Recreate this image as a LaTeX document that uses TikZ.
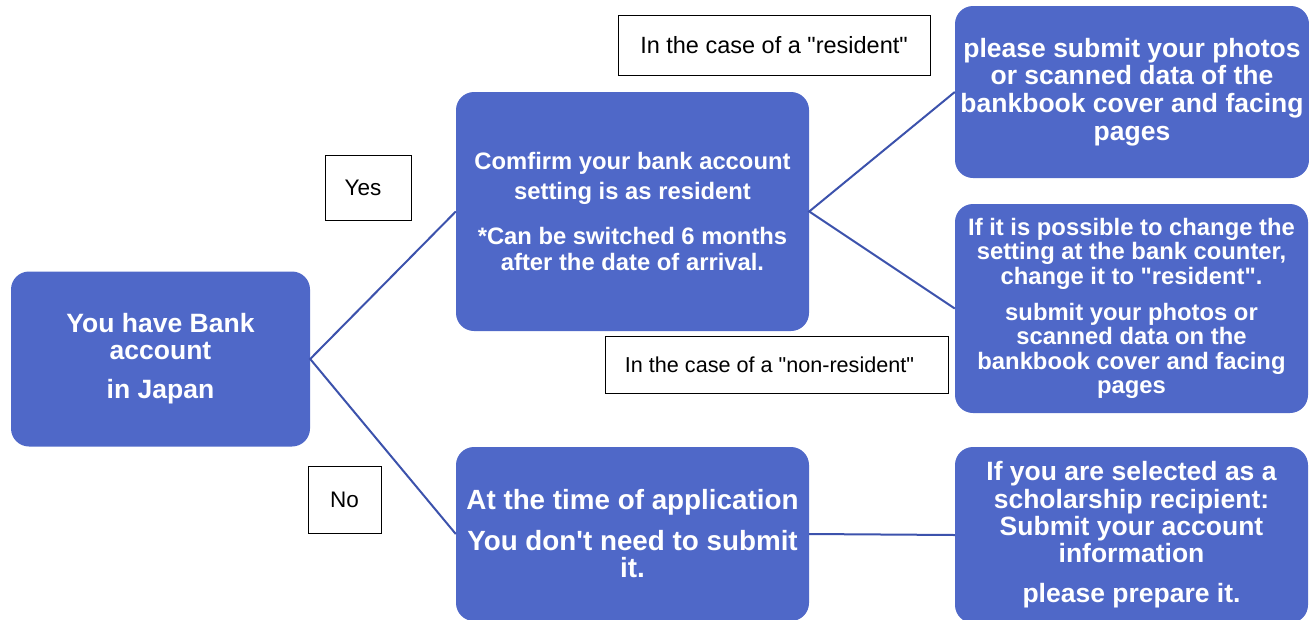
\documentclass[tikz,border=0pt]{standalone}
\usepackage{fontspec}
\newfontfamily\lsans{Liberation Sans}
\definecolor{boxblue}{RGB}{79,104,200}
\definecolor{lineblue}{RGB}{60,82,172}
\newcommand{\fsz}[2]{\fontsize{#1}{#2}\selectfont}
\tikzset{
  box/.style={rounded corners=18pt, fill=boxblue, text=white, align=center, inner sep=0pt},
  lbl/.style={draw=black, line width=0.9pt, fill=white, text=black, align=center, inner sep=0pt},
  conn/.style={draw=lineblue, line width=2pt}
}
\begin{document}
\begin{tikzpicture}[x=1pt,y=-1pt]
\useasboundingbox (0,0) rectangle (1309,619);
\node[box, minimum width=299pt, minimum height=175pt, font=\lsans\bfseries\fsz{26.5}{27}] (A) at (160.5,359)
  {You have Bank\\account\\[12pt]in Japan};
\node[box, minimum width=353pt, minimum height=239pt, font=\lsans\bfseries\fsz{23.8}{26}] (B) at (632.5,211.5)
  {Comfirm your bank account\\[4pt]setting is as resident\\[19pt]*Can be switched 6 months\\after the date of arrival.};
\node[box, minimum width=354pt, minimum height=172pt, font=\lsans\bfseries\fsz{26.5}{27.7}] (C) at (1132,92)
  {please submit your photos\\or scanned data of the\\bankbook cover and facing\\pages};
\node[box, minimum width=353pt, minimum height=209pt, font=\lsans\bfseries\fsz{23.8}{24.5}] (D) at (1131.5,308.5)
  {If it is possible to change the\\setting at the bank counter,\\change it to "resident".\\[11.5pt]submit your photos or\\scanned data on the\\bankbook cover and facing\\pages};
\node[box, minimum width=353pt, minimum height=174pt, font=\lsans\bfseries\fsz{27.8}{27}] (E) at (632.5,534)
  {At the time of application\\[14pt]You don't need to submit\\it.};
\node[box, minimum width=353pt, minimum height=176pt, font=\lsans\bfseries\fsz{26.5}{27.3}] (F) at (1131.5,535)
  {If you are selected as a\\scholarship recipient:\\Submit your account\\information\\[13pt]please prepare it.};
\node[lbl, minimum width=312pt, minimum height=60pt, font=\lsans\fsz{23.5}{26}] (L1) at (774,45)
  {In the case of a "resident"};
\node[lbl, minimum width=343pt, minimum height=57pt, font=\lsans\fsz{21.6}{26}] (L2) at (776.5,364.5)
  {\hspace*{-14pt}In the case of a "non-resident"};
\node[lbl, minimum width=86pt, minimum height=65pt, font=\lsans\fsz{22.5}{24}] (Y) at (368,187.5)
  {\hspace*{-10pt}Yes};
\node[lbl, minimum width=73pt, minimum height=67pt, font=\lsans\fsz{22.5}{24}] (N) at (344.5,499.5)
  {No};
\draw[conn] (B.west) -- (A.east) -- (E.west);
\draw[conn] (C.west) -- (B.east) -- (D.west);
\draw[conn] (E.east) -- (F.west);
\end{tikzpicture}
\end{document}
